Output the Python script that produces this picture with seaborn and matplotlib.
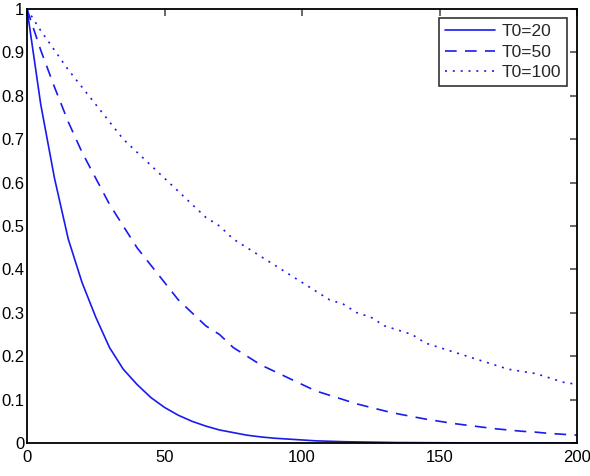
import matplotlib
matplotlib.use("Agg")
import matplotlib.pyplot as plt
import pandas as pd
import seaborn as sns

time_steps = list(range(0, 205, 5))
t0_20 = [1.0, 0.78, 0.61, 0.47, 0.37, 0.29, 0.22, 0.17, 0.135, 0.105, 0.082,
         0.064, 0.05, 0.039, 0.03, 0.024, 0.018, 0.014, 0.011, 0.009, 0.007,
         0.005, 0.004, 0.003, 0.0025, 0.002, 0.0015, 0.001, 0.0009, 0.0007, 0.0006,
         0.0004, 0.0003, 0.0003, 0.0002, 0.0002, 0.0001, 0.0001, 0.0001, 0.0001, 0.0]
t0_50 = [1.0, 0.905, 0.82, 0.74, 0.67, 0.61, 0.55, 0.50, 0.45, 0.41, 0.37,
         0.33, 0.30, 0.27, 0.25, 0.22, 0.20, 0.18, 0.165, 0.15, 0.135,
         0.12, 0.11, 0.10, 0.09, 0.082, 0.074, 0.067, 0.061, 0.055, 0.05,
         0.045, 0.041, 0.037, 0.033, 0.030, 0.027, 0.025, 0.022, 0.020, 0.018]
t0_100 = [1.0, 0.95, 0.905, 0.86, 0.82, 0.78, 0.74, 0.70, 0.67, 0.64, 0.61,
          0.58, 0.55, 0.52, 0.50, 0.47, 0.45, 0.43, 0.41, 0.39, 0.37,
          0.35, 0.33, 0.32, 0.30, 0.29, 0.27, 0.26, 0.25, 0.23, 0.22,
          0.21, 0.20, 0.19, 0.18, 0.17, 0.165, 0.16, 0.15, 0.14, 0.135]
series_labels = ["T0=20", "T0=50", "T0=100"]
x_ticks = [0, 50, 100, 150, 200]
y_ticks = [0, 0.1, 0.2, 0.3, 0.4, 0.5, 0.6, 0.7, 0.8, 0.9, 1]
y_tick_labels = ["0", "0.1", "0.2", "0.3", "0.4", "0.5", "0.6", "0.7", "0.8", "0.9", "1"]

LINE_STYLES = ["-", (0, (7, 5)), (0, (1.2, 3.5))]

sns.set_theme(style="white")
plt.rcParams.update({
    "font.family": ["Liberation Sans", "DejaVu Sans"],
    "xtick.direction": "in",
    "ytick.direction": "in",
    "xtick.top": True,
    "ytick.right": True,
    "xtick.major.size": 5,
    "ytick.major.size": 5,
    "xtick.color": "#555555",
    "ytick.color": "#555555",
    "xtick.labelcolor": "black",
    "ytick.labelcolor": "black",
})

fig = plt.figure(figsize=(5.9, 4.76), dpi=100)
ax = fig.add_axes([27 / 590, 33 / 476, 550 / 590, 434 / 476])

for values, label, ls in zip([t0_20, t0_50, t0_100], series_labels, LINE_STYLES):
    df = pd.DataFrame({"t": time_steps, "v": values})
    sns.lineplot(data=df, x="t", y="v", ax=ax, color="#1a1aee", linewidth=1.2,
                 linestyle=ls, label=label)

ax.set_xlim(0, 200)
ax.set_ylim(0, 1)
ax.set_xticks(x_ticks)
ax.set_yticks(y_ticks)
ax.set_yticklabels(y_tick_labels)
ax.tick_params(labelsize=12)
ax.tick_params(axis="y", pad=2)
ax.tick_params(axis="x", pad=5)
ax.set_xlabel("")
ax.set_ylabel("")
for sp in ax.spines.values():
    sp.set_color("black")
    sp.set_linewidth(1.3)

leg = ax.legend(loc="upper right", fontsize=12.5, frameon=True, fancybox=False,
                handlelength=2.9, handletextpad=0.35, borderpad=0.35,
                labelspacing=0.3, borderaxespad=0,
                bbox_to_anchor=(567 / 590, 1 - 18 / 476),
                bbox_transform=fig.transFigure)
leg.get_frame().set_edgecolor("black")
leg.get_frame().set_linewidth(1.2)

fig.savefig("out.png", dpi=100)
plt.close(fig)
